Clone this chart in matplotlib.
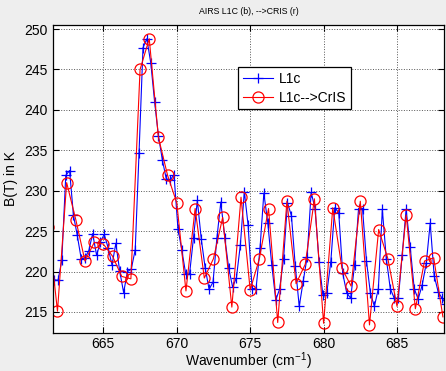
import matplotlib
matplotlib.use("Agg")
import matplotlib.pyplot as plt

plt.rcParams['font.family'] = ['Liberation Sans', 'DejaVu Sans']
plt.rcParams['mathtext.fontset'] = 'custom'
plt.rcParams['mathtext.rm'] = 'Liberation Sans'

# AIRS L1C channel wavenumbers (cm^-1)
airs_wn = [661.65, 661.91, 662.17, 662.44, 662.70, 662.96, 663.22, 663.49, 663.75, 664.01,
           664.27, 664.54, 664.80, 665.06, 665.33, 665.59, 665.85, 666.11, 666.38, 666.64,
           666.90, 667.17, 667.43, 667.70, 667.96, 668.23, 668.49, 668.75, 669.02, 669.28,
           669.55, 669.81, 670.08, 670.34, 670.61, 670.87, 671.14, 671.40, 671.67, 671.93,
           672.20, 672.47, 672.73, 673.00, 673.27, 673.53, 673.80, 674.06, 674.33, 674.60,
           674.86, 675.13, 675.40, 675.67, 675.93, 676.20, 676.47, 676.74, 677.00, 677.27,
           677.54, 677.81, 678.07, 678.34, 678.61, 678.88, 679.15, 679.42, 679.69, 679.95,
           680.22, 680.49, 680.76, 681.03, 681.30, 681.57, 681.84, 682.11, 682.38, 682.65,
           682.92, 683.19, 683.46, 683.73, 684.00, 684.27, 684.54, 684.81, 685.09, 685.35,
           685.62, 685.90, 686.17, 686.44, 686.71, 686.99, 687.26, 687.53, 687.80, 688.07,
           688.34]
airs_bt = [219.0, 218.9, 221.4, 231.9, 232.5, 227.0, 224.5, 221.6, 221.7, 222.6,
           224.7, 222.0, 223.7, 224.6, 222.9, 220.8, 223.5, 220.1, 217.4, 220.0,
           220.3, 222.7, 234.7, 247.7, 248.8, 245.8, 241.0, 236.8, 233.8, 231.5,
           231.3, 232.0, 225.3, 222.7, 219.7, 219.7, 224.2, 228.8, 224.0, 220.5,
           217.8, 218.7, 224.1, 228.6, 224.2, 220.5, 218.1, 219.2, 223.3, 229.9,
           225.7, 217.9, 217.9, 222.9, 229.7, 226.0, 220.8, 216.5, 217.8, 221.5,
           228.5, 226.9, 220.7, 215.7, 218.8, 221.8, 229.8, 227.8, 221.2, 217.1,
           217.4, 221.2, 227.9, 227.3, 219.8, 217.4, 216.7, 220.8, 227.8, 227.8,
           221.3, 217.3, 215.7, 217.9, 227.7, 221.6, 217.9, 216.7, 216.7, 222.0,
           227.7, 223.0, 217.9, 216.6, 218.3, 221.0, 226.0, 219.5, 217.5, 216.7,
           216.0]

# AIRS L1C converted to CrIS grid
cris_wn = [661.250, 661.875, 662.500, 663.125, 663.750, 664.375, 665.000, 665.625,
           666.250, 666.875, 667.500, 668.125, 668.750, 669.375, 670.000, 670.625,
           671.250, 671.875, 672.500, 673.125, 673.750, 674.375, 675.000, 675.625,
           676.250, 676.875, 677.500, 678.125, 678.750, 679.375, 680.000, 680.625,
           681.250, 681.875, 682.500, 683.125, 683.750, 684.375, 685.000, 685.625,
           686.250, 686.875, 687.500, 688.125]
cris_bt = [225.5, 215.1, 231.0, 226.4, 221.3, 223.6, 223.4, 221.9,
           219.4, 219.1, 245.0, 248.8, 236.6, 231.9, 228.5, 217.6,
           227.8, 219.2, 221.6, 226.7, 215.6, 229.2, 217.7, 221.6,
           227.8, 213.7, 228.7, 218.5, 220.9, 229.0, 213.6, 227.9,
           220.4, 218.2, 228.7, 213.4, 225.2, 221.6, 215.7, 227.0,
           215.4, 221.3, 221.7, 214.4]

x_ticks = [665, 670, 675, 680, 685]
y_ticks = [215, 220, 225, 230, 235, 240, 245, 250]

fig = plt.figure(figsize=(4.46, 3.71), dpi=100, facecolor='#eeeeee')
ax = fig.add_axes([53/446, 38/371, 391/446, 308/371])
ax.set_facecolor('white')

ax.plot(airs_wn, airs_bt, color='#0000ff', lw=0.8, marker='+', ms=7.5, mew=0.9, label='L1c')
ax.plot(cris_wn, cris_bt, color='#ff0000', lw=0.8, marker='o', ms=8, mfc='none', mew=0.9,
        label='L1c-->CrIS')

ax.set_xlim(661.57, 688.2)
ax.set_ylim(212.4, 250.5)
ax.set_xticks(x_ticks)
ax.set_yticks(y_ticks)
ax.grid(True, ls=':', color='#555555', lw=0.7)
ax.tick_params(direction='in', top=True, right=True, labelsize=10, length=4, pad=4)
ax.tick_params(axis='x', pad=3)
for s in ax.spines.values():
    s.set_linewidth(0.9)

ax.set_xlabel('Wavenumber (cm$^{-1}$)', fontsize=10, labelpad=-0.5)
ax.set_ylabel('B(T) in K', fontsize=10, labelpad=4)
ax.set_title('AIRS L1C (b), -->CRIS (r)', fontsize=6.3, pad=8)

leg = ax.legend(loc='upper left', bbox_to_anchor=(0.473, 0.864), borderaxespad=0,
                fontsize=10, frameon=True, fancybox=False, edgecolor='black', framealpha=1,
                handlelength=2.2, borderpad=0.35, labelspacing=0.35, handletextpad=0.4)
leg.get_frame().set_linewidth(0.9)

fig.savefig('out.png', dpi=100, facecolor=fig.get_facecolor())
